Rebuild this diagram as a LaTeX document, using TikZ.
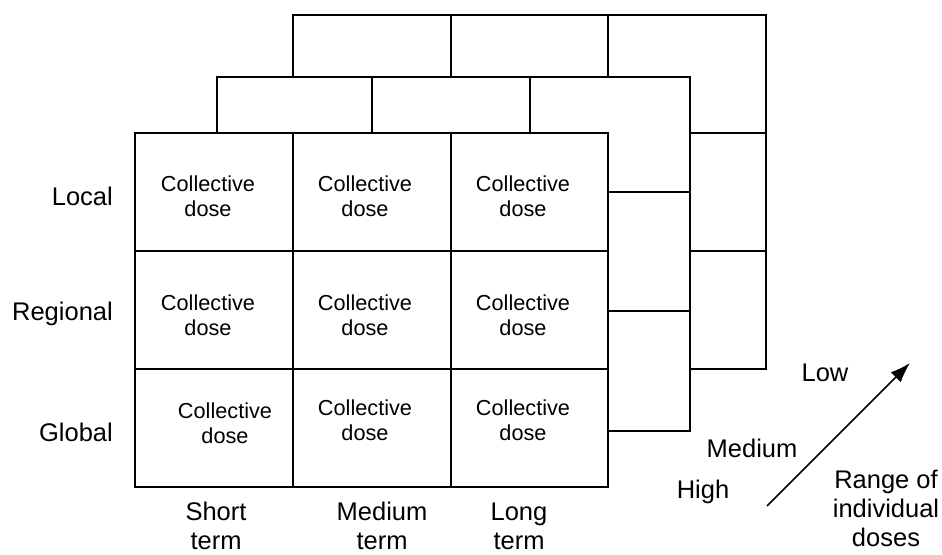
\documentclass[tikz,border=0pt]{standalone}
\usepackage{fontspec}
\setmainfont{Liberation Sans}
\usetikzlibrary{arrows.meta}
\begin{document}
\begin{tikzpicture}[x=1pt,y=-1pt,
  grid/.style={draw=black,line width=1.9pt},
  cell/.style={align=center,inner sep=0pt,font=\fontsize{21.7}{24.5}\selectfont},
  lbl/.style={inner sep=0pt,font=\fontsize{25.5}{29}\selectfont},
  lblc/.style={lbl,align=center}]
\useasboundingbox (0,0) rectangle (942,554);

% back layer (low doses)
\draw[grid] (293,77) -- (293,15) -- (766,15) -- (766,369) -- (690,369);
\draw[grid] (451,15) -- (451,77);
\draw[grid] (608,15) -- (608,77);
\draw[grid] (690,133) -- (766,133);
\draw[grid] (690,251) -- (766,251);

% middle layer (medium doses)
\draw[grid] (217,133) -- (217,77) -- (690,77) -- (690,431) -- (608,431);
\draw[grid] (372,77) -- (372,133);
\draw[grid] (530,77) -- (530,133);
\draw[grid] (608,192) -- (689,192);
\draw[grid] (608,311) -- (689,311);

% front layer (high doses)
\draw[grid] (135,133) rectangle (608,487);
\draw[grid] (293,133) -- (293,487);
\draw[grid] (451,133) -- (451,487);
\draw[grid] (135,251) -- (608,251);
\draw[grid] (135,369) -- (608,369);

% cell texts
\node[cell] (c11) at (208,196) {Collective\\dose};
\node[cell] (c12) at (365,196) {Collective\\dose};
\node[cell] (c13) at (523,196) {Collective\\dose};
\node[cell] (c21) at (208,315) {Collective\\dose};
\node[cell] (c22) at (365,315) {Collective\\dose};
\node[cell] (c23) at (523,315) {Collective\\dose};
\node[cell] (c31) at (225,423) {Collective\\dose};
\node[cell] (c32) at (365,420) {Collective\\dose};
\node[cell] (c33) at (523,420) {Collective\\dose};

% row labels
\node[lbl,anchor=east] (local) at (113,196) {Local};
\node[lbl,anchor=east] (regional) at (113,314) {Regional};
\node[lbl,anchor=east] (global) at (113,432) {Global};

% column labels
\node[lblc] (short) at (216,526) {Short\\term};
\node[lblc] (medium) at (382,526) {Medium\\term};
\node[lblc] (long) at (519,526) {Long\\term};

% dose range labels
\node[lbl] (high) at (703,492) {High};
\node[lbl] (med) at (752,448) {Medium};
\node[lbl] (low) at (825,373) {Low};
\node[lblc] (range) at (886,508) {Range of\\individual\\doses};

\coordinate (aS) at (767,506);
\coordinate (aE) at (910,363);
\draw[line width=1.5pt,-{Latex[length=20pt,width=14pt]}] (aS) -- (aE);
\end{tikzpicture}
\end{document}
